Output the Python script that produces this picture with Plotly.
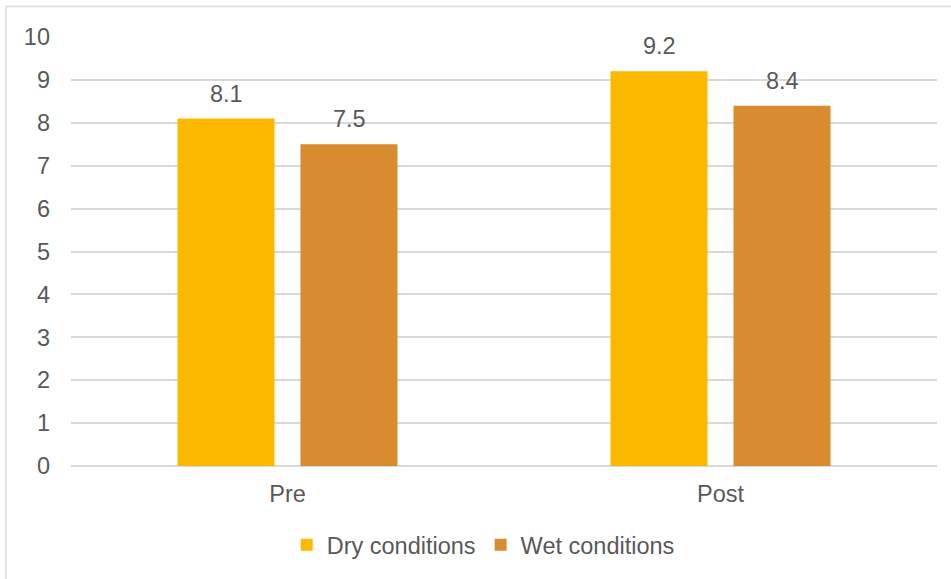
import plotly.graph_objects as go

categories = ["Pre", "Post"]
dry_values = [8.1, 9.2]
wet_values = [7.5, 8.4]
series_names = ["Dry conditions", "Wet conditions"]
y_ticks = list(range(0, 11))

FONT = "Liberation Sans, Arial, sans-serif"
TXT = "#595959"
FS = 23.5
COLORS = ["#FBB900", "#D98B2F"]

fig = go.Figure()
for name, vals, col in zip(series_names, [dry_values, wet_values], COLORS):
    fig.add_trace(go.Bar(
        x=categories, y=vals, name=name,
        marker=dict(color=col, line=dict(width=0)),
    ))

# data labels above the bars
annotations = []
for i, vals in enumerate([dry_values, wet_values]):
    for cat, v in zip(categories, vals):
        annotations.append(dict(
            x=cat, y=v, xref="x", yref="y", text=f"{v:g}", showarrow=False,
            xshift=(i - 0.5) * 123, yshift=10, yanchor="bottom",
            font=dict(size=FS, color=TXT, family=FONT),
        ))

fig.update_layout(
    width=951, height=579,
    margin=dict(l=71, r=14, t=37, b=113),
    paper_bgcolor="white", plot_bgcolor="white",
    barmode="group", bargap=0.432, bargroupgap=0.211,
    font=dict(family=FONT, size=FS, color=TXT),
    showlegend=True,
    legend=dict(orientation="h", x=0.476, xanchor="center", y=-0.184, yanchor="middle",
                font=dict(size=FS, color=TXT), itemwidth=30, traceorder="normal"),
    xaxis=dict(showgrid=False, showline=False, ticks="", tickfont=dict(size=FS, color=TXT),
               ticklabelstandoff=11),
    yaxis=dict(range=[0, 10], tickvals=y_ticks, showgrid=True, gridcolor="#D9D9D9", gridwidth=1.5,
               zeroline=True, zerolinecolor="#D9D9D9", zerolinewidth=1.5,
               showline=False, ticks="", tickfont=dict(size=FS, color=TXT),
               ticklabelstandoff=20),
    annotations=annotations,
    shapes=[dict(type="rect", xref="paper", yref="paper",
                 x0=-0.075, x1=1.02, y0=-0.3, y1=1.071,
                 line=dict(color="#D9D9D9", width=1.5), fillcolor="rgba(0,0,0,0)", layer="below")],
)

fig.write_html("out.html", config={"displayModeBar": False},
               post_script="document.body.style.margin='0px';")
